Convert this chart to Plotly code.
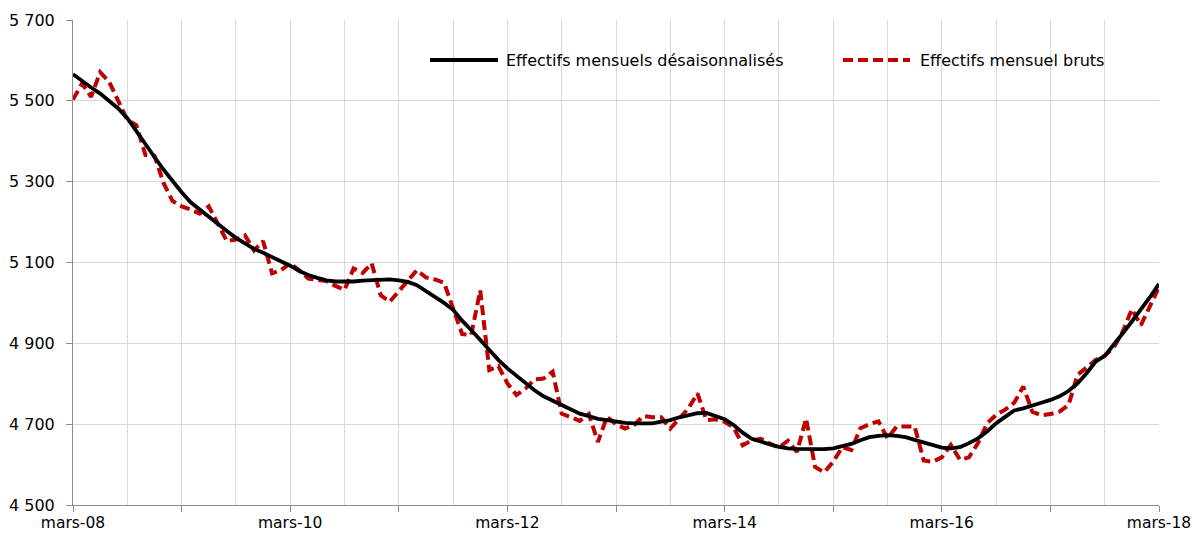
import plotly.graph_objects as go

# Months from mars-08 (index 0) to mars-18 (index 120)
month_index = list(range(121))

desaison = [
    5566, 5548, 5533, 5518, 5500, 5481, 5457, 5424, 5391, 5361,
    5330, 5301, 5274, 5249, 5231, 5211, 5194, 5178, 5161, 5147,
    5134, 5124, 5114, 5104, 5092, 5079, 5069, 5062, 5056, 5053,
    5052, 5053, 5055, 5056, 5058, 5058, 5056, 5052, 5044, 5030,
    5015, 5000, 4983, 4956, 4933, 4908, 4882, 4859, 4838, 4819,
    4801, 4784, 4769, 4758, 4747, 4735, 4726, 4720, 4713, 4710,
    4706, 4703, 4702, 4703, 4702, 4706, 4710, 4717, 4723, 4727,
    4728, 4721, 4712, 4698, 4679, 4664, 4656, 4650, 4644, 4640,
    4639, 4638, 4638, 4638, 4640, 4645, 4651, 4660, 4668, 4671,
    4673, 4671, 4668, 4661, 4655, 4649, 4642, 4640, 4643, 4653,
    4665, 4682, 4702, 4718, 4734, 4739, 4745, 4753, 4760, 4769,
    4782, 4801, 4826, 4855, 4869, 4896, 4925, 4954, 4983, 5014,
    5047,
]

bruts = [
    5503, 5543, 5510, 5571, 5547, 5498, 5452, 5440, 5366, 5364,
    5297, 5252, 5239, 5231, 5221, 5239, 5198, 5153, 5157, 5167,
    5130, 5153, 5073, 5081, 5098, 5081, 5060, 5058, 5054, 5042,
    5032, 5085, 5074, 5098, 5019, 5003, 5028, 5055, 5081, 5063,
    5058, 5050, 4983, 4923, 4921, 5031, 4834, 4844, 4801, 4772,
    4788, 4811, 4813, 4830, 4726, 4717, 4708, 4725, 4656, 4718,
    4700, 4689, 4698, 4720, 4717, 4717, 4689, 4714, 4739, 4776,
    4710, 4712, 4706, 4692, 4648, 4660, 4664, 4652, 4642, 4659,
    4631, 4714, 4594, 4581, 4607, 4643, 4636, 4690, 4700, 4707,
    4665, 4694, 4694, 4694, 4610, 4607, 4618, 4649, 4612, 4618,
    4653, 4702, 4723, 4736, 4753, 4793, 4731, 4722, 4725, 4731,
    4747, 4822, 4840, 4859, 4869, 4890, 4929, 4984, 4945, 4991,
    5039,
]

x_tickvals = [0, 12, 24, 36, 48, 60, 72, 84, 96, 108, 120]
x_ticktext = ["mars-08", "", "mars-10", "", "mars-12", "", "mars-14", "",
              "mars-16", "", "mars-18"]
y_tickvals = [4500, 4700, 4900, 5100, 5300, 5500, 5700]
y_ticktext = ["4 500", "4 700", "4 900", "5 100", "5 300", "5 500", "5 700"]

name_desaison = "Effectifs mensuels désaisonnalisés"
name_bruts = "Effectifs mensuel bruts"

FONT = "DejaVu Sans"
GRID = "#d9d9d9"
AXIS = "#8c8c8c"
RED = "#c00000"

fig = go.Figure()
fig.add_trace(go.Scatter(x=month_index, y=bruts, mode="lines", name=name_bruts,
                         line=dict(color=RED, width=4, dash="10px,5px")))
fig.add_trace(go.Scatter(x=month_index, y=desaison, mode="lines", name=name_desaison,
                         line=dict(color="#000000", width=3.8)))

# Custom legend (samples + real text)
LY = 0.9175
fig.add_shape(type="line", xref="paper", yref="paper", x0=0.3287, x1=0.3913,
              y0=LY, y1=LY, line=dict(color="#000000", width=4))
fig.add_annotation(xref="paper", yref="paper", x=0.3965, y=LY, xanchor="left",
                   yanchor="middle", showarrow=False, text=name_desaison,
                   font=dict(family=FONT, size=16, color="#000000"))
fig.add_shape(type="line", xref="paper", yref="paper", x0=0.709, x1=0.7707,
              y0=LY, y1=LY, line=dict(color=RED, width=4, dash="10px,5px"))
fig.add_annotation(xref="paper", yref="paper", x=0.778, y=LY, xanchor="left",
                   yanchor="middle", showarrow=False, text=name_bruts,
                   font=dict(family=FONT, size=16, color="#000000"))

fig.update_layout(
    width=1192, height=538,
    margin=dict(l=73, r=33, t=20, b=33, autoexpand=False),
    paper_bgcolor="white", plot_bgcolor="white",
    showlegend=False,
    font=dict(family=FONT, size=16, color="#000000"),
    xaxis=dict(range=[0, 120], tickmode="array", tickvals=x_tickvals, ticktext=x_ticktext,
               tickfont=dict(family=FONT, size=15.5, color="#000000"),
               showgrid=True, gridcolor=GRID, gridwidth=1,
               showline=True, linecolor=AXIS, linewidth=1,
               ticks="outside", ticklen=6, tickcolor=AXIS,
               ticklabelstandoff=-3, ticklabeloverflow="allow",
               minor=dict(tickmode="linear", tick0=0, dtick=6, showgrid=True,
                          gridcolor=GRID, gridwidth=1, ticks=""),
               zeroline=False, fixedrange=True),
    yaxis=dict(range=[4500, 5700], tickmode="array", tickvals=y_tickvals, ticktext=y_ticktext,
               showgrid=True, gridcolor=GRID, gridwidth=1,
               showline=True, linecolor=AXIS, linewidth=1,
               ticks="outside", ticklen=6, tickcolor=AXIS,
               ticklabelstandoff=8, ticklabeloverflow="allow",
               zeroline=False, fixedrange=True),
)

fig.write_html(
    "out.html",
    config={"displayModeBar": False},
    post_script="document.body.style.margin='0';document.body.style.overflow='hidden';",
)
